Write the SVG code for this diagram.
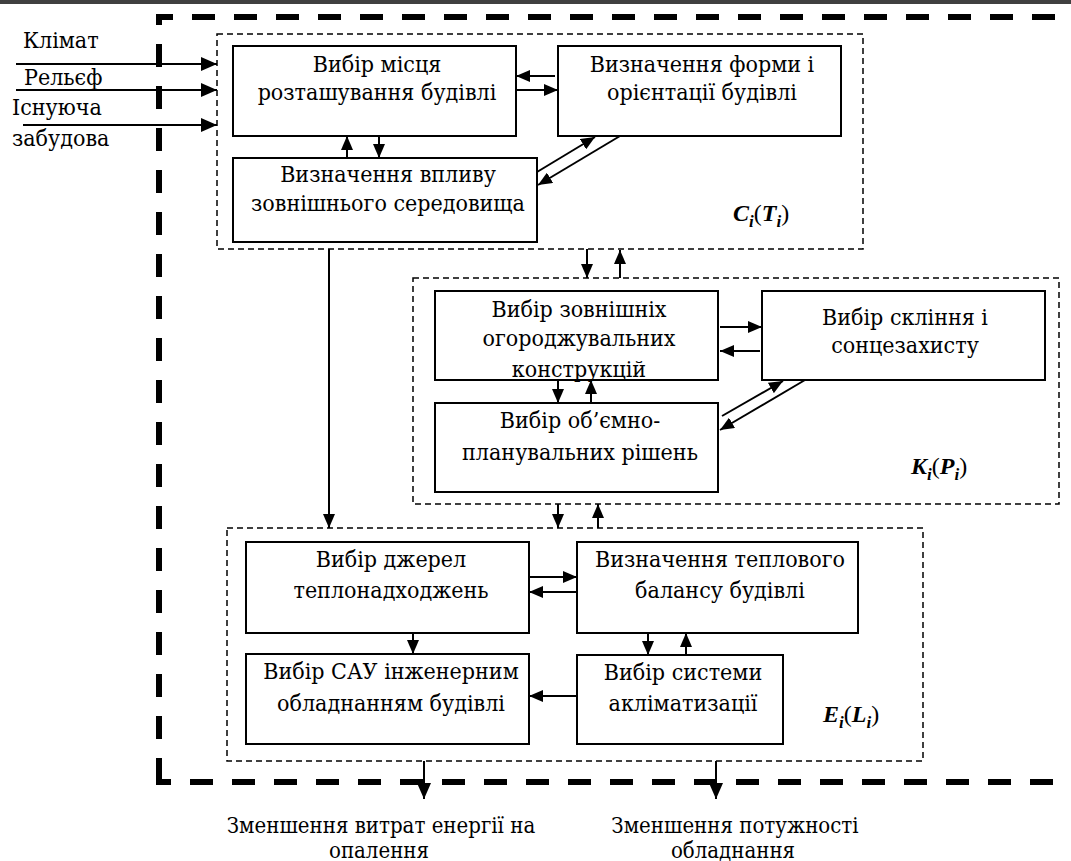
<svg xmlns="http://www.w3.org/2000/svg" width="1071" height="861" viewBox="0 0 1071 861">
<style>
.t{font-family:"DejaVu Serif Condensed","DejaVu Serif","Liberation Serif",serif;font-stretch:condensed;font-size:23px;fill:#000;text-anchor:middle}
.tl{font-family:"DejaVu Serif Condensed","DejaVu Serif","Liberation Serif",serif;font-stretch:condensed;font-size:23px;fill:#000}
.to{font-family:"DejaVu Serif Condensed","DejaVu Serif","Liberation Serif",serif;font-stretch:condensed;font-size:22px;fill:#000;text-anchor:middle}
.box{fill:#fff;stroke:#000;stroke-width:2}
.grp{fill:none;stroke:#000;stroke-width:1.5;stroke-dasharray:6 4}
.thick{fill:none;stroke:#000;stroke-width:6;stroke-dasharray:23 19}
.c{fill:none;stroke:#000;stroke-width:2}
.lbl{font-family:"Liberation Serif","Times New Roman",serif;font-size:24px;fill:#000}
.bi{font-style:italic;font-weight:bold}
</style>
<defs>
<marker id="ah" viewBox="0 0 14 12" refX="14" refY="6" markerWidth="14" markerHeight="12" markerUnits="userSpaceOnUse" orient="auto"><path d="M0,0 L14,6 L0,12 z" fill="#000"/></marker>
<marker id="ahb" viewBox="0 0 16 14" refX="16" refY="7" markerWidth="16" markerHeight="14" markerUnits="userSpaceOnUse" orient="auto"><path d="M0,0 L16,7 L0,14 z" fill="#000"/></marker>
</defs>
<rect x="0" y="0" width="1071" height="861" fill="#fff"/>
<rect x="0" y="0" width="1071" height="4" fill="#404040"/>

<g id="boundary">
<path class="thick" d="M156,17 H1075" stroke-dashoffset="6"/>
<path class="thick" d="M159,14 V782" stroke-dashoffset="12"/>
<path class="thick" d="M156,782 H1075" stroke-dashoffset="8"/>
</g>

<g id="inputs">
<text class="tl" x="23" y="48">Клімат</text>
<text class="tl" x="24" y="85">Рельєф</text>
<text class="tl" x="12" y="115">Існуюча</text>
<text class="tl" x="12" y="146">забудова</text>
</g>

<g id="group-C">
<rect class="grp" x="217" y="34" width="646" height="215"/>
<text class="lbl" x="733" y="221"><tspan class="bi">C</tspan><tspan class="bi" font-size="17" dy="6">i</tspan><tspan dy="-6">(</tspan><tspan class="bi">T</tspan><tspan class="bi" font-size="17" dy="6">i</tspan><tspan dy="-6">)</tspan></text>
</g>
<g id="group-K">
<rect class="grp" x="413" y="278" width="646" height="226"/>
<text class="lbl" x="911" y="474"><tspan class="bi">K</tspan><tspan class="bi" font-size="17" dy="6">i</tspan><tspan dy="-6">(</tspan><tspan class="bi">P</tspan><tspan class="bi" font-size="17" dy="6">i</tspan><tspan dy="-6">)</tspan></text>
</g>
<g id="group-E">
<rect class="grp" x="227" y="528" width="696" height="233"/>
<text class="lbl" x="823" y="722"><tspan class="bi">E</tspan><tspan class="bi" font-size="17" dy="6">i</tspan><tspan dy="-6">(</tspan><tspan class="bi">L</tspan><tspan class="bi" font-size="17" dy="6">i</tspan><tspan dy="-6">)</tspan></text>
</g>

<g id="n1"><rect class="box" x="233" y="46" width="283" height="90"/>
<text class="t" x="377" y="72">Вибір місця</text><text class="t" x="377" y="100">розташування будівлі</text></g>
<g id="n2"><rect class="box" x="558" y="46" width="283" height="90"/>
<text class="t" x="702" y="72">Визначення форми і</text><text class="t" x="702" y="100">орієнтації будівлі</text></g>
<g id="n3"><rect class="box" x="233" y="158" width="304" height="84"/>
<text class="t" x="388" y="182">Визначення впливу</text><text class="t" x="388" y="211">зовнішнього середовища</text></g>

<g id="n4"><rect class="box" x="435" y="291" width="283" height="89"/>
<text class="t" x="579" y="317">Вибір зовнішніх</text><text class="t" x="579" y="346">огороджувальних</text><text class="t" x="579" y="377">конструкцій</text></g>
<g id="n5"><rect class="box" x="762" y="291" width="283" height="89"/>
<text class="t" x="905" y="325">Вибір скління і</text><text class="t" x="905" y="353">сонцезахисту</text></g>
<g id="n6"><rect class="box" x="435" y="403" width="283" height="89"/>
<text class="t" x="580" y="428">Вибір об’ємно-</text><text class="t" x="580" y="460">планувальних рішень</text></g>

<g id="n7"><rect class="box" x="246" y="542" width="283" height="91"/>
<text class="t" x="391" y="567">Вибір джерел</text><text class="t" x="391" y="598">теплонадходжень</text></g>
<g id="n8"><rect class="box" x="246" y="654" width="283" height="90"/>
<text class="t" x="391" y="679">Вибір САУ інженерним</text><text class="t" x="391" y="711">обладнанням будівлі</text></g>
<g id="n9"><rect class="box" x="577" y="542" width="281" height="91"/>
<text class="t" x="720" y="567">Визначення теплового</text><text class="t" x="720" y="598">балансу будівлі</text></g>
<g id="n10"><rect class="box" x="577" y="655" width="206" height="89"/>
<text class="t" x="683" y="680">Вибір системи</text><text class="t" x="683" y="711">акліматизації</text></g>

<g id="connectors">
<path class="c" d="M16,64 H217" marker-end="url(#ahb)"/>
<path class="c" d="M16,90 H217" marker-end="url(#ahb)"/>
<path class="c" d="M23,125 H217" marker-end="url(#ahb)"/>
<path class="c" d="M555,76 H516" marker-end="url(#ah)"/>
<path class="c" d="M517,90 H558" marker-end="url(#ah)"/>
<path class="c" d="M347,158 V136" marker-end="url(#ah)"/>
<path class="c" d="M379,136 V158" marker-end="url(#ah)"/>
<path class="c" d="M537,172 L595,137" marker-end="url(#ah)"/>
<path class="c" d="M620,136 L538,185" marker-end="url(#ah)"/>
<path class="c" d="M587,249 V278" marker-end="url(#ah)"/>
<path class="c" d="M620,278 V250" marker-end="url(#ah)"/>
<path class="c" d="M720,327 H762" marker-end="url(#ah)"/>
<path class="c" d="M760,351 H720" marker-end="url(#ah)"/>
<path class="c" d="M558,380 V403" marker-end="url(#ah)"/>
<path class="c" d="M591,403 V380" marker-end="url(#ah)"/>
<path class="c" d="M722,416 L783,381" marker-end="url(#ah)"/>
<path class="c" d="M805,380 L720,430" marker-end="url(#ah)"/>
<path class="c" d="M558,504 V528" marker-end="url(#ah)"/>
<path class="c" d="M598,528 V504" marker-end="url(#ah)"/>
<path class="c" d="M529,577 H577" marker-end="url(#ah)"/>
<path class="c" d="M577,592 H529" marker-end="url(#ah)"/>
<path class="c" d="M413,633 V654" marker-end="url(#ah)"/>
<path class="c" d="M648,633 V655" marker-end="url(#ah)"/>
<path class="c" d="M686,655 V633" marker-end="url(#ah)"/>
<path class="c" d="M577,696 H529" marker-end="url(#ah)"/>
<path class="c" d="M329,249 V528" marker-end="url(#ah)"/>
<path class="c" d="M424,761 V799" marker-end="url(#ahb)"/>
<path class="c" d="M716,761 V799" marker-end="url(#ahb)"/>
</g>

<g id="outputs">
<text class="to" x="381" y="833">Зменшення витрат енергії на</text>
<text class="to" x="379" y="858">опалення</text>
<text class="to" x="735" y="833">Зменшення потужності</text>
<text class="to" x="733" y="858">обладнання</text>
</g>
</svg>
